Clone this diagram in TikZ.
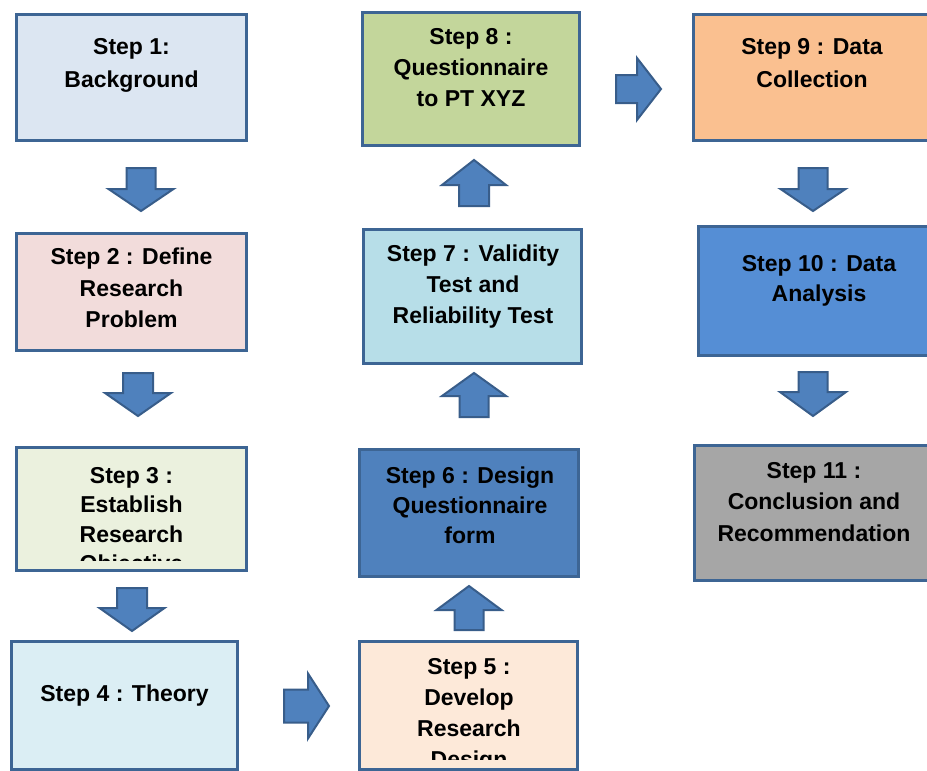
\documentclass[tikz,border=0pt]{standalone}
\usepackage{fontspec}
\setmainfont{Liberation Sans}
\usetikzlibrary{calc}
\definecolor{bord}{HTML}{3D6594}
\definecolor{arrf}{HTML}{4F81BD}
\definecolor{arrb}{HTML}{385D8A}
\definecolor{c1}{HTML}{DCE6F2}
\definecolor{c2}{HTML}{F2DCDB}
\definecolor{c3}{HTML}{EBF1DE}
\definecolor{c4}{HTML}{DBEEF4}
\definecolor{c5}{HTML}{FDE9D9}
\definecolor{c6}{HTML}{4F81BD}
\definecolor{c7}{HTML}{B7DEE8}
\definecolor{c8}{HTML}{C3D69B}
\definecolor{c9}{HTML}{FAC090}
\definecolor{c10}{HTML}{558ED5}
\definecolor{c11}{HTML}{A6A6A6}
\newcommand\blockarrow[6]{% name, tail, tip, shaft half, head half, head length
  \coordinate (#1hb) at ($(#3)!#6!(#2)$);
  \filldraw[arrstyle] ($(#2)!#4!90:(#3)$) -- ($(#1hb)!#4!90:(#3)$) -- ($(#1hb)!#5!90:(#3)$)
    -- (#3) -- ($(#1hb)!#5!-90:(#3)$) -- ($(#1hb)!#4!-90:(#3)$) -- ($(#2)!#4!-90:(#3)$) -- cycle;
}
\begin{document}
\begin{tikzpicture}[x=1pt,y=-1pt,
  stepbox/.style={draw=bord, line width=3pt, inner sep=0pt, outer sep=0pt, anchor=north west},
  steptext/.style={anchor=north, inner sep=0pt, align=center, text=black,
    font=\bfseries\fontsize{23}{#1}\selectfont},
  steptext/.default=31,
  arrstyle/.style={fill=arrf, draw=arrb, line width=2pt, line join=miter}]
\useasboundingbox[fill=white] (0,0) rectangle (927,771);

% boxes
\node[stepbox, fill=c1,  minimum width=230, minimum height=126] (s1)  at (16.5,14.5) {};
\node[stepbox, fill=c2,  minimum width=230, minimum height=117] (s2)  at (16.5,233.5) {};
\node[stepbox, fill=c3,  minimum width=230, minimum height=123] (s3)  at (16.5,447.5) {};
\node[stepbox, fill=c4,  minimum width=226, minimum height=128] (s4)  at (11.5,641.5) {};
\node[stepbox, fill=c5,  minimum width=218, minimum height=128] (s5)  at (359.5,641.5) {};
\node[stepbox, fill=c6,  minimum width=219, minimum height=127] (s6)  at (359.5,449.5) {};
\node[stepbox, fill=c7,  minimum width=218, minimum height=134] (s7)  at (363.5,229.5) {};
\node[stepbox, fill=c8,  minimum width=217, minimum height=133] (s8)  at (362.5,12.5) {};
\node[stepbox, fill=c9,  minimum width=237, minimum height=126] (s9)  at (693.5,14.5) {};
\node[stepbox, fill=c10, minimum width=241, minimum height=129] (s10) at (698.5,226.5) {};
\node[stepbox, fill=c11, minimum width=239, minimum height=135] (s11) at (694.5,445.5) {};

% texts
\node[steptext=33] (t1) at (131.5,38) {Step 1:\\Background};
\node[steptext=31.5] (t2) at (131.5,248) {Step 2 : Define\\Research\\Problem};
\begin{scope}
  \clip (18,449) rectangle (245,560.5);
  \node[steptext=29.5] (t3) at (131.5,467) {Step 3 :\\Establish\\Research\\Objective};
\end{scope}
\node[steptext] (t4) at (124.5,685) {Step 4 : Theory};
\begin{scope}
  \clip (361,643) rectangle (576,759);
  \node[steptext=31] (t5) at (469,658) {Step 5 :\\Develop\\Research\\Design};
\end{scope}
\node[steptext=30] (t6) at (470,467) {Step 6 : Design\\Questionnaire\\form};
\node[steptext=31] (t7) at (473,245) {Step 7 : Validity\\Test and\\Reliability Test};
\node[steptext=31] (t8) at (471,28) {Step 8 :\\Questionnaire\\to PT XYZ};
\node[steptext=33] (t9) at (812,38) {Step 9 : Data\\Collection};
\node[steptext=30] (t10) at (819,255) {Step 10 : Data\\Analysis};
\node[steptext=31.5] (t11) at (814,462) {Step 11 :\\Conclusion and\\Recommendation};

% block arrows
\coordinate (a1t) at (141,168);  \coordinate (a1h) at (141,211);
\coordinate (a2t) at (138,373);  \coordinate (a2h) at (138,416);
\coordinate (a3t) at (132,588);  \coordinate (a3h) at (132,631);
\coordinate (a4t) at (284,706);  \coordinate (a4h) at (329,706);
\coordinate (a5t) at (469,630);  \coordinate (a5h) at (469,586);
\coordinate (a6t) at (474,417);  \coordinate (a6h) at (474,373);
\coordinate (a7t) at (474,206);  \coordinate (a7h) at (474,160);
\coordinate (a8t) at (616,89);   \coordinate (a8h) at (661,89);
\coordinate (a9t) at (813,168);  \coordinate (a9h) at (813,211);
\coordinate (a10t) at (813,372); \coordinate (a10h) at (813,416);

\blockarrow{a1}{a1t}{a1h}{14.5pt}{32.5pt}{22pt}
\blockarrow{a2}{a2t}{a2h}{15pt}{33pt}{23pt}
\blockarrow{a3}{a3t}{a3h}{15pt}{32.5pt}{23pt}
\blockarrow{a4}{a4t}{a4h}{16.5pt}{32.5pt}{21pt}
\blockarrow{a5}{a5t}{a5h}{14.5pt}{32.5pt}{24pt}
\blockarrow{a6}{a6t}{a6h}{14.5pt}{32pt}{23pt}
\blockarrow{a7}{a7t}{a7h}{15pt}{32pt}{25pt}
\blockarrow{a8}{a8t}{a8h}{14pt}{31pt}{24pt}
\blockarrow{a9}{a9t}{a9h}{14.5pt}{32.5pt}{22pt}
\blockarrow{a10}{a10t}{a10h}{14.5pt}{33pt}{24pt}
\end{tikzpicture}
\end{document}
